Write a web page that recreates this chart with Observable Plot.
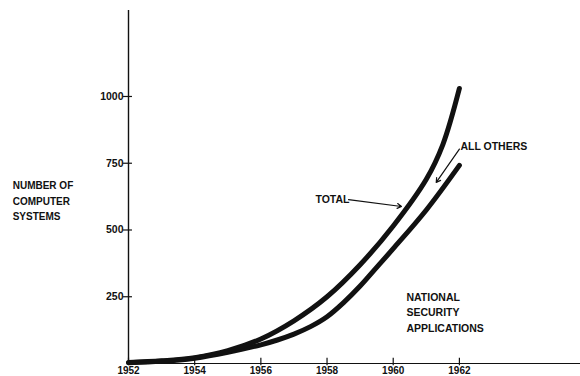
<!DOCTYPE html>
<html>
<head>
<meta charset="utf-8">
<script src="https://cdn.jsdelivr.net/npm/d3@7"></script>
<script src="https://cdn.jsdelivr.net/npm/@observablehq/plot@0.6"></script>
<style>
  html, body { margin: 0; padding: 0; background: #fff; }
  #chart svg { display: block; }
</style>
</head>
<body>
<div id="chart"></div>
<script>
// ---- data ----
const totalYears  = [1952, 1953, 1954, 1955, 1956, 1957, 1958, 1959, 1960, 1961, 1961.5, 1962];
const totalValues = [4, 10, 22, 48, 92, 160, 250, 370, 515, 690, 820, 1030];
const natSecYears  = [1952, 1953, 1954, 1955, 1956, 1956.5, 1957, 1957.5, 1958, 1958.5, 1959, 1959.5, 1960, 1961, 1962];
const natSecValues = [3, 8, 20, 42, 70, 88, 110, 138, 175, 228, 290, 360, 430, 575, 742];
const xTicks  = [1952, 1954, 1956, 1958, 1960, 1962];
const yTicks  = [250, 500, 750, 1000];

// annotation texts and their anchor positions (in data units)
const notes = [
  {x: 1957.65, y: 618, text: "TOTAL"},
  {x: 1962.03, y: 816, text: "ALL OTHERS"},
  {x: 1960.4,  y: 195, text: "NATIONAL\nSECURITY\nAPPLICATIONS"}
];
const yTitle = [{x: 1948.5, y: 614, text: "NUMBER OF\nCOMPUTER\nSYSTEMS"}];
const arrows = [
  {x1: 1958.65, y1: 614, x2: 1960.25, y2: 588},
  {x1: 1962.0,  y1: 803, x2: 1961.3,  y2: 678}
];

const rows = (xs, vs) => xs.map((yr, i) => ({year: yr, value: vs[i]}));
const ink = "#111";

const chart = Plot.plot({
  width: 580,
  height: 376,
  marginLeft: 128,
  marginRight: 0,
  marginTop: 10,
  marginBottom: 13,
  style: {fontFamily: "'Liberation Sans', Arial, sans-serif", fontSize: "10px", fontWeight: "bold", color: ink, background: "#fff"},
  x: {domain: [1952, 1965.66], axis: null},
  y: {domain: [0, 1322], axis: null},
  marks: [
    Plot.ruleY([0], {stroke: ink, strokeWidth: 1.2}),
    Plot.ruleX([1952], {stroke: ink, strokeWidth: 1.4}),
    Plot.ruleX(xTicks, {x: d => d, y1: -8, y2: 20, stroke: ink, strokeWidth: 1.2}),
    Plot.ruleY(yTicks, {y: d => d, x1: 1952 - 0.15, x2: 1952 + 0.12, stroke: ink, strokeWidth: 1.2}),
    Plot.axisX({ticks: xTicks, tickSize: 0, tickPadding: 3, tickFormat: d => String(d), label: null, fontSize: 10}),
    Plot.axisY({ticks: yTicks, tickSize: 0, tickPadding: 5, tickFormat: d => String(d), label: null, fontSize: 10.5}),
    Plot.line(rows(natSecYears, natSecValues), {x: "year", y: "value", curve: "catmull-rom", stroke: ink, strokeWidth: 5}),
    Plot.line(rows(totalYears, totalValues),  {x: "year", y: "value", curve: "catmull-rom", stroke: ink, strokeWidth: 5}),
    Plot.arrow(arrows, {x1: "x1", y1: "y1", x2: "x2", y2: "y2", stroke: ink, strokeWidth: 1.2, headLength: 6, bend: 0}),
    Plot.text(notes, {x: "x", y: "y", text: "text", textAnchor: "start", lineHeight: 1.45, fontSize: 10.5, fill: ink}),
    Plot.text(yTitle, {x: "x", y: "y", text: "text", textAnchor: "start", lineHeight: 1.55, fontSize: 10, fill: ink})
  ]
});
document.getElementById("chart").appendChild(chart);
</script>
</body>
</html>
